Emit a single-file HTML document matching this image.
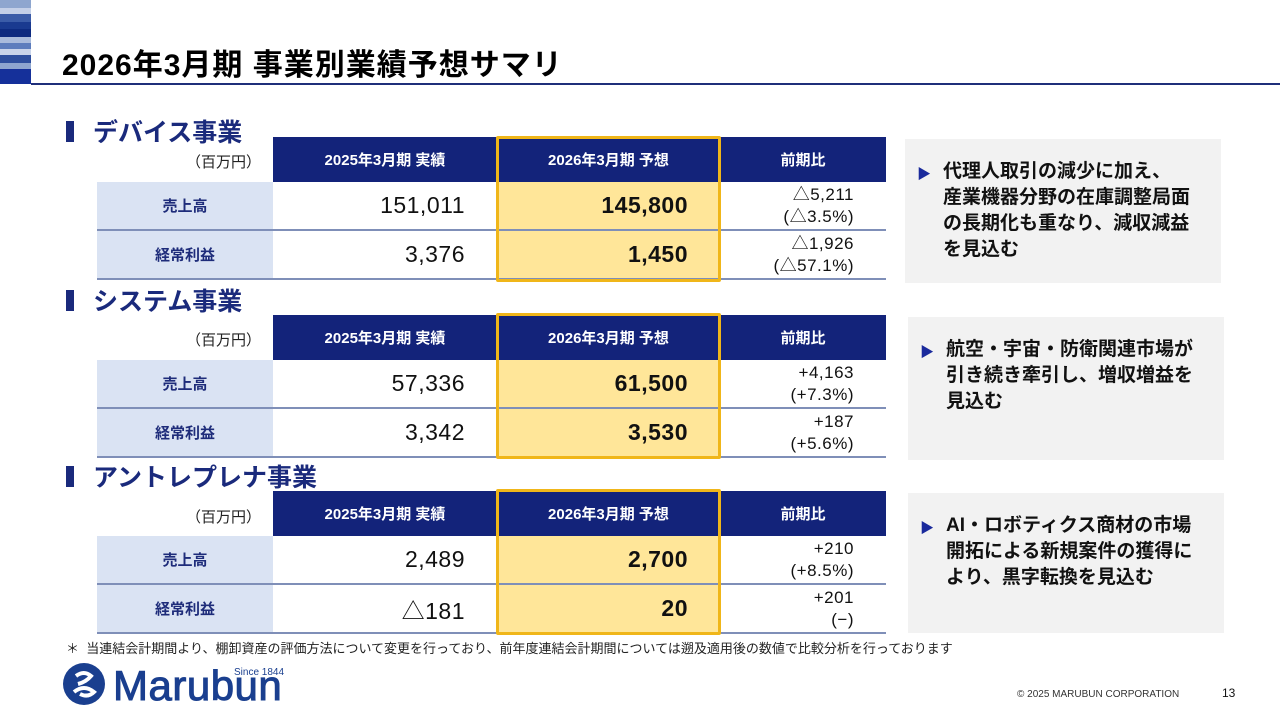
<!DOCTYPE html>
<html><head><meta charset="utf-8">
<style>
*{margin:0;padding:0;box-sizing:border-box}
body{width:1280px;height:720px;background:#fff;position:relative;overflow:hidden;font-family:"Liberation Sans","Noto Sans CJK JP",sans-serif;color:#111}
.a{position:absolute}
.stripe{position:absolute;left:0;width:31px}
.title{left:62px;top:40px;font-size:30px;font-weight:bold;color:#000;white-space:nowrap;letter-spacing:1px}
.sec{font-size:25px;font-weight:bold;color:#1a2a7c;white-space:nowrap}
.secbar{width:8px;height:21px;background:#1a2a7c}
.unit{font-size:15px;color:#222;width:176px;text-align:right;padding-right:12px}
.hd{background:#13237a;color:#fff;font-weight:bold;font-size:15px;display:flex;align-items:center;justify-content:center;height:45px}
.lab{background:#dae3f3;color:#1e2c7a;font-weight:bold;font-size:15px;display:flex;align-items:center;justify-content:center;width:176px;left:97px;height:49px;border-bottom:2px solid #7f8fb8}
.v1{left:273px;width:224px;height:49px;font-size:23px;display:flex;align-items:center;justify-content:flex-end;padding-right:32px;border-bottom:2px solid #7f8fb8;letter-spacing:0.5px}
.v2{left:497px;width:223px;height:49px;font-size:23px;font-weight:bold;background:#ffe699;display:flex;align-items:center;justify-content:flex-end;padding-right:32px;border-bottom:2px solid #7f8fb8;letter-spacing:0.5px}
.v3{left:720px;width:166px;height:49px;font-size:17px;line-height:22px;text-align:right;padding-right:32px;padding-top:2px;border-bottom:2px solid #7f8fb8;letter-spacing:0.5px}
.ybox{border:3px solid #f0b619;border-radius:2px}
.note{background:#f2f2f2;font-size:19px;font-weight:bold;line-height:26px;color:#111;white-space:nowrap}
.note .arr{position:absolute;left:12px;color:#1a2a9c;font-size:14px}
.note .tx{position:absolute;left:38px}
</style></head><body>
<div class="stripe" style="top:0;height:8px;background:#8ea6cf"></div>
<div class="stripe" style="top:8px;height:6px;background:#c4d0e8"></div>
<div class="stripe" style="top:14px;height:8px;background:#3b5ca8"></div>
<div class="stripe" style="top:22px;height:7px;background:#1a3a90"></div>
<div class="stripe" style="top:29px;height:8px;background:#0d2a80"></div>
<div class="stripe" style="top:37px;height:6px;background:#a9bbdc"></div>
<div class="stripe" style="top:43px;height:6px;background:#5d7dbd"></div>
<div class="stripe" style="top:49px;height:6px;background:#c9d4ea"></div>
<div class="stripe" style="top:55px;height:8px;background:#2e4f9e"></div>
<div class="stripe" style="top:63px;height:6px;background:#8ea6cf"></div>
<div class="stripe" style="top:69px;height:15px;background:#15309a"></div>
<div class="a" style="left:31px;top:83px;width:1249px;height:2px;background:#1f2f7a"></div>
<div class="a title">2026年3月期 事業別業績予想サマリ</div>

<!-- Section 1 -->
<div class="a secbar" style="left:66px;top:121px"></div>
<div class="a sec" style="left:93px;top:113px">デバイス事業</div>
<div class="a unit" style="left:97px;top:151px">（百万円）</div>
<div class="a hd" style="left:273px;top:137px;width:224px">2025年3月期 実績</div>
<div class="a hd" style="left:497px;top:137px;width:223px">2026年3月期 予想</div>
<div class="a hd" style="left:720px;top:137px;width:166px">前期比</div>
<div class="a lab" style="top:182px">売上高</div>
<div class="a v1" style="top:182px">151,011</div>
<div class="a v2" style="top:182px">145,800</div>
<div class="a v3" style="top:182px">△5,211<br>(△3.5%)</div>
<div class="a lab" style="top:231px">経常利益</div>
<div class="a v1" style="top:231px">3,376</div>
<div class="a v2" style="top:231px">1,450</div>
<div class="a v3" style="top:231px">△1,926<br>(△57.1%)</div>
<div class="a ybox" style="left:496px;top:136px;width:225px;height:146px"></div>
<div class="a note" style="left:905px;top:139px;width:316px;height:144px"><span class="arr" style="top:22px">▶</span><div class="tx" style="top:20px">代理人取引の減少に加え、<br>産業機器分野の在庫調整局面<br>の長期化も重なり、減収減益<br>を見込む</div></div>

<!-- Section 2 -->
<div class="a secbar" style="left:66px;top:290px"></div>
<div class="a sec" style="left:93px;top:282px">システム事業</div>
<div class="a unit" style="left:97px;top:329px">（百万円）</div>
<div class="a hd" style="left:273px;top:315px;width:224px">2025年3月期 実績</div>
<div class="a hd" style="left:497px;top:315px;width:223px">2026年3月期 予想</div>
<div class="a hd" style="left:720px;top:315px;width:166px">前期比</div>
<div class="a lab" style="top:360px">売上高</div>
<div class="a v1" style="top:360px">57,336</div>
<div class="a v2" style="top:360px">61,500</div>
<div class="a v3" style="top:360px">+4,163<br>(+7.3%)</div>
<div class="a lab" style="top:409px">経常利益</div>
<div class="a v1" style="top:409px">3,342</div>
<div class="a v2" style="top:409px">3,530</div>
<div class="a v3" style="top:409px">+187<br>(+5.6%)</div>
<div class="a ybox" style="left:496px;top:313px;width:225px;height:146px"></div>
<div class="a note" style="left:908px;top:317px;width:316px;height:143px"><span class="arr" style="top:22px">▶</span><div class="tx" style="top:20px">航空・宇宙・防衛関連市場が<br>引き続き牽引し、増収増益を<br>見込む</div></div>

<!-- Section 3 -->
<div class="a secbar" style="left:66px;top:466px"></div>
<div class="a sec" style="left:93px;top:458px">アントレプレナ事業</div>
<div class="a unit" style="left:97px;top:506px">（百万円）</div>
<div class="a hd" style="left:273px;top:491px;width:224px">2025年3月期 実績</div>
<div class="a hd" style="left:497px;top:491px;width:223px">2026年3月期 予想</div>
<div class="a hd" style="left:720px;top:491px;width:166px">前期比</div>
<div class="a lab" style="top:536px">売上高</div>
<div class="a v1" style="top:536px">2,489</div>
<div class="a v2" style="top:536px">2,700</div>
<div class="a v3" style="top:536px">+210<br>(+8.5%)</div>
<div class="a lab" style="top:585px">経常利益</div>
<div class="a v1" style="top:585px">△181</div>
<div class="a v2" style="top:585px">20</div>
<div class="a v3" style="top:585px">+201<br>(−)</div>
<div class="a ybox" style="left:496px;top:489px;width:225px;height:146px"></div>
<div class="a note" style="left:908px;top:493px;width:316px;height:140px"><span class="arr" style="top:22px">▶</span><div class="tx" style="top:20px">AI・ロボティクス商材の市場<br>開拓による新規案件の獲得に<br>より、黒字転換を見込む</div></div>

<div class="a" style="left:66px;top:638px;font-size:13px;color:#222;white-space:nowrap">＊&nbsp; 当連結会計期間より、棚卸資産の評価方法について変更を行っており、前年度連結会計期間については遡及適用後の数値で比較分析を行っております</div>

<svg class="a" style="left:62px;top:662px" width="44" height="44"><circle cx="22" cy="22" r="21" fill="#1a3f8f"/><path d="M14 14 Q22 8 29 14 Q24 20 16 22 M12 30 Q22 22 32 30 Q26 36 18 32" stroke="#fff" stroke-width="4" fill="none"/></svg>
<div class="a" style="left:113px;top:664px;font-size:42px;color:#1a3f8f;letter-spacing:0.5px;-webkit-text-stroke:1px #1a3f8f;line-height:44px">Marubun</div>
<div class="a" style="left:234px;top:667px;font-size:10px;color:#1a3f8f">Since 1844</div>
<div class="a" style="left:1017px;top:689px;font-size:10px;color:#333">© 2025 MARUBUN CORPORATION</div>
<div class="a" style="left:1222px;top:686px;font-size:12px;color:#111">13</div>
</body></html>
